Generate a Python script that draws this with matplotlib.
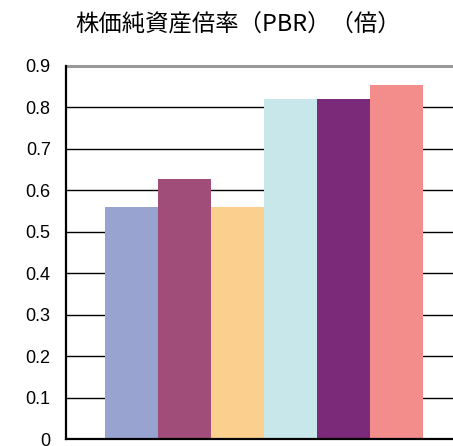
import matplotlib.pyplot as plt

plt.rcParams['font.family'] = ['Noto Sans CJK JP', 'DejaVu Sans']

title = "株価純資産倍率（PBR）（倍）"
values = [0.56, 0.627, 0.56, 0.82, 0.82, 0.855]
colors = ["#99A3D0", "#A04E79", "#FBD08F", "#C8E7EA", "#7A2A78", "#F28D8C"]
yticks = [0, 0.1, 0.2, 0.3, 0.4, 0.5, 0.6, 0.7, 0.8, 0.9]

fig = plt.figure(figsize=(4.53, 4.46), dpi=100)
ax = fig.add_axes([66 / 453, 7 / 446, 387 / 453, 373 / 446])

x = list(range(len(values)))
ax.bar(x, values, width=1.0, color=colors, zorder=3)

for v in yticks[1:-1]:
    ax.axhline(v, color="black", lw=1.0, zorder=1)
ax.axhline(0.9, color="#999999", lw=2.2, zorder=1, clip_on=False)

ax.set_xlim(-1.24, -1.24 + 387 / 53)
ax.set_ylim(0, 0.9)
ax.set_yticks(yticks)
ax.set_yticklabels(["0"] + [f"{v:.1f}" for v in yticks[1:]], fontsize=13,
                   family=['Liberation Sans', 'DejaVu Sans'])
ax.set_xticks([])
ax.tick_params(axis="y", length=0, pad=11)

for s in ["top", "right"]:
    ax.spines[s].set_visible(False)
for s in ["left", "bottom"]:
    ax.spines[s].set_linewidth(1.6)
    ax.spines[s].set_zorder(4)

fig.text(238 / 453, 1 - 25 / 446, title, ha="center", va="center", fontsize=16.8)

fig.savefig("out.png", dpi=100)
